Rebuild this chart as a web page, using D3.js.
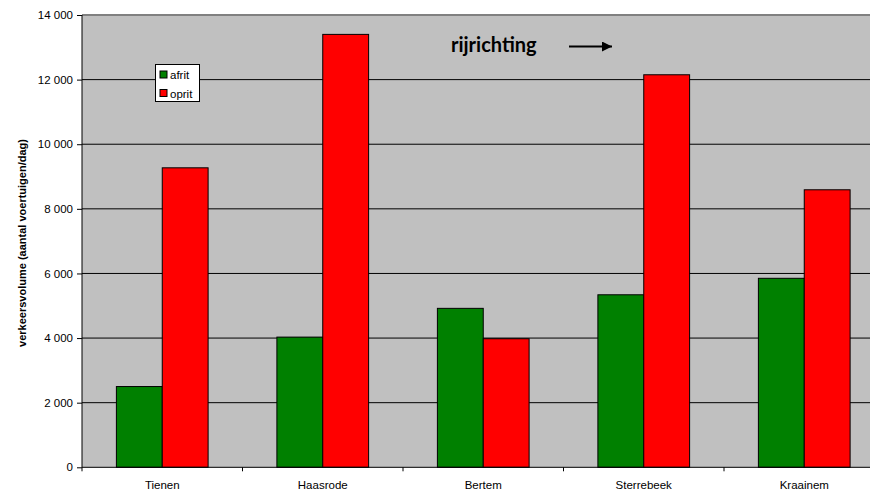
<!DOCTYPE html>
<html>
<head>
<meta charset="utf-8">
<script src="https://cdn.jsdelivr.net/npm/d3@7"></script>
<style>
  html, body { margin: 0; padding: 0; background: #fff; }
  svg { display: block; }
  text { font-family: "Liberation Sans", Arial, sans-serif; fill: #000; }
</style>
</head>
<body>
<svg id="chart" width="870" height="493"></svg>
<script>
// Verkeersvolumes per op-/afrit (voertuigen per dag)
const categories = ["Tienen", "Haasrode", "Bertem", "Sterrebeek", "Kraainem"];
const seriesNames = ["afrit", "oprit"];
const afrit = [2500, 4030, 4920, 5340, 5850];
const oprit = [9270, 13400, 3980, 12150, 8590];
const yTicks = [0, 2000, 4000, 6000, 8000, 10000, 12000, 14000];
const colors = { afrit: "#008000", oprit: "#FF0000" };

const rows = categories.map((c, i) => ({ cat: c, afrit: afrit[i], oprit: oprit[i] }));

const svg = d3.select("#chart");
const plot = { left: 82, top: 15, right: 884.5, bottom: 467.3 };

const x = d3.scaleBand().domain(categories).range([plot.left, plot.right]).padding(0);
const xs = d3.scaleBand().domain(seriesNames).range([0, x.bandwidth()])
  .paddingInner(0).paddingOuter(0.75);
const y = d3.scaleLinear().domain([0, 14000]).range([plot.bottom, plot.top]);

const fmt = v => d3.format(",")(v).replace(/,/g, " ");

// plot background
svg.append("rect")
  .attr("x", plot.left).attr("y", plot.top)
  .attr("width", plot.right - plot.left).attr("height", plot.bottom - plot.top)
  .attr("fill", "#C0C0C0");

// horizontal gridlines
svg.append("g").selectAll("line")
  .data(yTicks.filter(t => t > 0 && t < 14000))
  .join("line")
  .attr("x1", plot.left).attr("x2", plot.right)
  .attr("y1", d => y(d)).attr("y2", d => y(d))
  .attr("stroke", "#000").attr("stroke-width", 1);

// top border of the plot area
svg.append("line")
  .attr("x1", plot.left).attr("x2", plot.right)
  .attr("y1", y(14000)).attr("y2", y(14000))
  .attr("stroke", "#808080").attr("stroke-width", 2);

// bars
const groups = svg.append("g").selectAll("g")
  .data(rows).join("g")
  .attr("transform", d => `translate(${x(d.cat)},0)`);

groups.selectAll("rect")
  .data(d => seriesNames.map(s => ({ key: s, value: d[s] })))
  .join("rect")
  .attr("x", d => xs(d.key))
  .attr("width", xs.bandwidth())
  .attr("y", d => y(d.value))
  .attr("height", d => y(0) - y(d.value))
  .attr("fill", d => colors[d.key])
  .attr("stroke", "#000")
  .attr("stroke-width", 1);

// y axis
const yAxis = d3.axisLeft(y).tickValues(yTicks).tickFormat(fmt).tickSize(5).tickPadding(4);
const gy = svg.append("g").attr("transform", `translate(${plot.left},0)`).call(yAxis);
gy.select(".domain").attr("stroke", "#000").attr("d", `M0,${plot.top}V${plot.bottom}`);
gy.selectAll(".tick line").attr("stroke", "#000");
gy.selectAll(".tick text").style("font-size", "11.5px");

// x axis with ticks between categories
const gx = svg.append("g").attr("transform", `translate(0,${plot.bottom})`);
gx.append("line")
  .attr("x1", plot.left).attr("x2", plot.right)
  .attr("stroke", "#000").attr("stroke-width", 1);
gx.selectAll(".sep")
  .data(categories.concat([null]))
  .join("line")
  .attr("class", "sep")
  .attr("x1", (d, i) => plot.left + i * x.step())
  .attr("x2", (d, i) => plot.left + i * x.step())
  .attr("y1", 0).attr("y2", 4)
  .attr("stroke", "#000");
gx.selectAll(".lbl")
  .data(categories)
  .join("text")
  .attr("class", "lbl")
  .attr("x", d => x(d) + x.bandwidth() / 2)
  .attr("y", 21.5)
  .attr("text-anchor", "middle")
  .style("font-size", "11.5px")
  .text(d => d);

// y axis title
svg.append("text")
  .attr("transform", "translate(26,243) rotate(-90)")
  .attr("text-anchor", "middle")
  .style("font-size", "11px")
  .style("font-weight", "bold")
  .text("verkeersvolume (aantal voertuigen/dag)");

// legend
const lg = svg.append("g").attr("transform", "translate(155.5,64.5)");
lg.append("rect").attr("width", 44).attr("height", 37)
  .attr("fill", "#fff").attr("stroke", "#000");
seriesNames.forEach((s, i) => {
  lg.append("rect")
    .attr("x", 4.5).attr("y", 6.5 + i * 18.5)
    .attr("width", 7).attr("height", 7)
    .attr("fill", colors[s]).attr("stroke", "#000");
  lg.append("text")
    .attr("x", 14.5).attr("y", 14.5 + i * 18.5)
    .style("font-size", "11.5px")
    .text(s);
});

// driving direction annotation
svg.append("text")
  .attr("x", 451).attr("y", 51.5)
  .style("font-family", "Lato, 'Open Sans', sans-serif")
  .style("font-weight", "bold")
  .style("font-size", "20px")
  .text("rijrichting");

svg.append("defs").append("marker")
  .attr("id", "arrowhead")
  .attr("viewBox", "0 0 10 10")
  .attr("refX", 10).attr("refY", 5)
  .attr("markerUnits", "userSpaceOnUse")
  .attr("markerWidth", 13).attr("markerHeight", 10)
  .attr("orient", "auto")
  .append("path").attr("d", "M0,0L10,5L0,10Z").attr("fill", "#000");

svg.append("line")
  .attr("x1", 569).attr("x2", 612)
  .attr("y1", 46.5).attr("y2", 46.5)
  .attr("stroke", "#000").attr("stroke-width", 2)
  .attr("marker-end", "url(#arrowhead)");
</script>
</body>
</html>
